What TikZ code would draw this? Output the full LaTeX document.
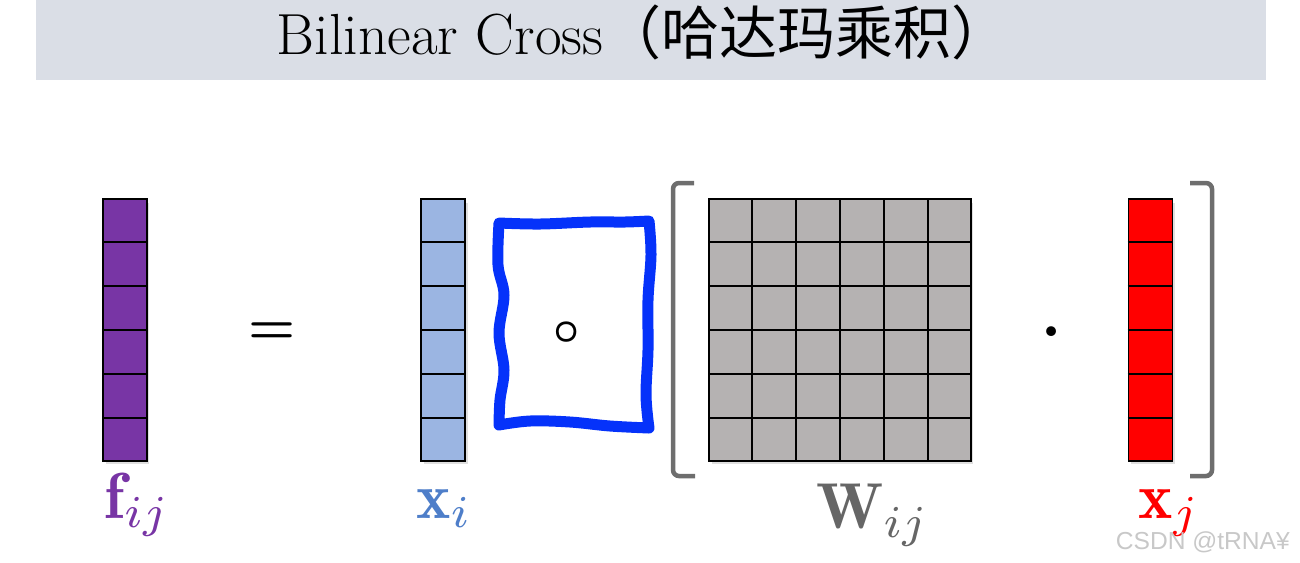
\documentclass[tikz,border=0pt]{standalone}
\usepackage{amsmath}
\usepackage{fontspec}
\newfontfamily\cjk{Noto Sans CJK SC}
\newfontfamily\wmfont{Liberation Sans}
\usetikzlibrary{calc,shadows}
\definecolor{titlebg}{RGB}{218,222,230}
\definecolor{fpurple}{RGB}{120,53,165}
\definecolor{xblue}{RGB}{155,181,226}
\definecolor{xbluetext}{RGB}{78,126,201}
\definecolor{wgray}{RGB}{181,178,178}
\definecolor{wtext}{RGB}{102,102,102}
\definecolor{xred}{RGB}{255,0,0}
\definecolor{hadblue}{RGB}{5,50,250}
\definecolor{brgray}{RGB}{110,110,110}
\definecolor{wmgray}{RGB}{200,200,200}

\begin{document}
\begin{tikzpicture}[x=0.02cm,y=-0.02cm,
    cell/.style={line width=1.1pt},
    vec/.style={draw,line width=1.1pt,inner sep=0pt,minimum width=0.88cm,minimum height=5.24cm,
      drop shadow={shadow xshift=0.05cm,shadow yshift=-0.07cm,opacity=0.25}},
    lab/.style={scale=3.7,inner sep=0pt,anchor=base west},
    op/.style={inner sep=0pt}]
  \useasboundingbox (0,0) rectangle (1300,562);
  % title band
  \fill[titlebg] (36,0) rectangle (1266,80);
  \node[anchor=base,font=\fontsize{33}{34}\selectfont] (title) at (643,54)
    {Bilinear Cross{\cjk\fontsize{33}{34}\selectfont （哈达玛乘积）}};

  % vectors and the matrix
  \node[vec,fill=fpurple] (f) at (125,330) {};
  \node[vec,fill=xblue] (xi) at (443,330) {};
  \node[vec,fill=wgray,minimum width=5.24cm] (W) at (840,330) {};
  \node[vec,fill=xred] (xj) at (1150.5,330) {};
  \foreach \v in {f,xi,W,xj}
    \foreach \k in {1,...,5}
      \draw[cell] ($(\v.north west)!\k/6!(\v.south west)$) -- ($(\v.north east)!\k/6!(\v.south east)$);
  \foreach \k in {1,...,5}
    \draw[cell] ($(W.north west)!\k/6!(W.north east)$) -- ($(W.south west)!\k/6!(W.south east)$);

  % operators
  \node[op,scale=3] (eq) at (272,333) {$\boldsymbol{=}$};
  \draw[hadblue,line width=0.22cm,line join=round]
    plot[smooth,tension=0.6] coordinates {(499,223) (540,224) (590,222) (625,222) (649,221)}
    -- plot[smooth,tension=0.6] coordinates {(649,221) (651,255) (648,300) (648,350) (646,395) (649,428)}
    -- plot[smooth,tension=0.6] coordinates {(649,428) (610,426) (570,422) (530,421) (499,425)}
    -- plot[smooth,tension=0.6] coordinates {(499,425) (500,400) (504,370) (499,333) (504,295) (498,265) (499,223)}
    -- cycle;
  \node[op,scale=2.6] (had) at (567,333) {$\boldsymbol{\circ}$};
  \node[op,scale=3.6] (dot) at (1052,333) {$\boldsymbol{\cdot}$};

  % brackets
  \draw[brgray,line width=0.09cm,rounded corners=0.12cm] (694,183) -- (673,183) -- (673,476) -- (695,476);
  \draw[brgray,line width=0.09cm,rounded corners=0.12cm] (1190,183) -- (1212,183) -- (1212,476) -- (1190,476);

  % labels
  \node[lab,text=fpurple] (flab) at (103,518) {$\mathbf{f}_{ij}$};
  \node[lab,text=xbluetext] (xilab) at (415,518) {$\mathbf{x}_{i}$};
  \node[lab,text=wtext] (Wlab) at (815,528) {$\mathbf{W}_{ij}$};
  \node[lab,text=xred] (xjlab) at (1137,518) {$\mathbf{x}_{j}$};

  \node[anchor=base east,text=wmgray,font=\wmfont\fontsize{14}{14}\selectfont] (wm) at (1296,549) {CSDN @tRNA¥};
\end{tikzpicture}
\end{document}
